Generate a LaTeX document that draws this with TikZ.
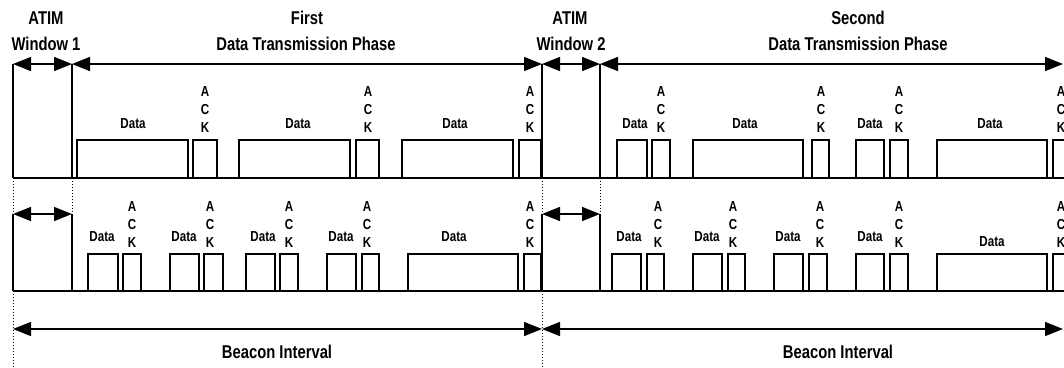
\documentclass[tikz,border=0pt]{standalone}
\usepackage{fontspec}
\setmainfont{Liberation Sans}[FakeStretch=0.8]
\usetikzlibrary{arrows.meta}
\tikzset{
  dimarrow/.style={{Triangle[length=18pt,width=14pt]}-{Triangle[length=18pt,width=14pt]}, line width=1.5pt},
  phasebar/.style={line width=2.4pt},
  axisline/.style={line width=1.6pt},
  pkt/.style={draw, line width=1.2pt},
  guide/.style={dotted, line width=1pt},
  lbl/.style={font=\fontsize{14.5}{16}\selectfont\bfseries, inner sep=0pt, anchor=base},
  ttl/.style={font=\fontsize{18.5}{21}\selectfont\bfseries, inner sep=0pt, anchor=base}
}
\newcommand\ackmark[3]{%
  \node[lbl] (#1a) at (#2,#3-36) {A};
  \node[lbl] (#1c) at (#2,#3-18) {C};
  \node[lbl] (#1k) at (#2,#3) {K};}
\begin{document}
\begin{tikzpicture}[x=1pt,y=-1pt]
\useasboundingbox (0,0) rectangle (1064,367);
\clip (0,0) rectangle (1064,367);
% key coordinates
\foreach \n/\x in {p/13,q/72,r/542,s/600}{
  \coordinate (\n-top) at (\x,64);
  \coordinate (\n-base) at (\x,178);
  \coordinate (\n-ltop) at (\x,214);
  \coordinate (\n-lbase) at (\x,291);
  \coordinate (\n-beacon) at (\x,329);
  \coordinate (\n-end) at (\x,367);
}
\coordinate (rightTop) at (1063,64);
\coordinate (rightBeacon) at (1063,329);
\coordinate (rightBase) at (1064,178);
\coordinate (rightLBase) at (1064,291);
% baselines
\draw[axisline] (p-base) -- (rightBase);
\draw[axisline] (p-lbase) -- (rightLBase);
% vertical bars
\foreach \n in {p,q,r,s}{
  \draw[phasebar] (\n-top) -- (\n-base);
  \draw[phasebar] (\n-ltop) -- (\n-lbase);
  \draw[guide] (\n-base) -- (\n-ltop);
}
\draw[guide] (p-lbase) -- (p-end);
\draw[guide] (r-lbase) -- (r-end);
% dimension arrows
\draw[dimarrow] (p-top) -- (q-top);
\draw[dimarrow] (q-top) -- (r-top);
\draw[dimarrow] (r-top) -- (s-top);
\draw[dimarrow] (s-top) -- (rightTop);
\draw[dimarrow] (p-ltop) -- (q-ltop);
\draw[dimarrow] (r-ltop) -- (s-ltop);
\draw[dimarrow] (p-beacon) -- (r-beacon);
\draw[dimarrow] (r-beacon) -- (rightBeacon);
% top row packets
\foreach \a/\b in {77/188,193/217,239/350,356/379,402/513,519/541,617/647,652/670,693/803,812/829,856/884,890/908,937/1047,1053/1075}
  \draw[pkt] (\a,178) rectangle (\b,140);
% lower row packets
\foreach \a/\b in {88/118,123/141,170/199,204/223,246/275,280/298,327/356,362/379,408/518,524/541,612/641,647/664,693/722,728/745,774/803,809/827,856/884,890/908,937/1047,1053/1075}
  \draw[pkt] (\a,291) rectangle (\b,254);
% top labels
\foreach \x [count=\i] in {133,298,455,635,745,870,990}
  \node[lbl] (td\i) at (\x,128) {Data};
\foreach \x [count=\i] in {205,368,530,661,821,899,1061}
  {\ackmark{ta\i}{\x}{132}}
% lower labels
\foreach \x/\y [count=\i] in {102/241,184/241,263/241,341/241,454/241,629/241,707/241,788/241,870/241,992/246}
  \node[lbl] (ld\i) at (\x,\y) {Data};
\foreach \x [count=\i] in {132,210,289,367,530,658,733,820,899,1061}
  {\ackmark{la\i}{\x}{247}}
% titles
\node[ttl] (atim1) at (46,24) {ATIM};
\node[ttl] (win1) at (46,50) {Window 1};
\node[ttl] (first) at (307,24) {First};
\node[ttl] (dtp1) at (306,50) {Data Transmission Phase};
\node[ttl] (atim2) at (570,24) {ATIM};
\node[ttl] (win2) at (571,50) {Window 2};
\node[ttl] (second) at (858,24) {Second};
\node[ttl] (dtp2) at (858,50) {Data Transmission Phase};
\node[ttl] (bi1) at (277,358) {Beacon Interval};
\node[ttl] (bi2) at (838,358) {Beacon Interval};
\end{tikzpicture}
\end{document}
